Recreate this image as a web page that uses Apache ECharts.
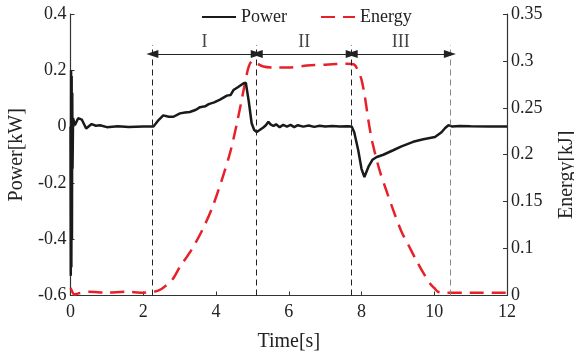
<!DOCTYPE html>
<html>
<head>
<meta charset="utf-8">
<script src="https://cdn.jsdelivr.net/npm/echarts@6/dist/echarts.min.js"></script>
<style>
html,body{margin:0;padding:0;background:#fff;}
#chart{width:574px;height:360px;}
</style>
</head>
<body>
<div id="chart"></div>
<script>
// ---- data ----
const timePower = [0, 0.008, 0.016, 0.024, 0.032, 0.04, 0.048, 0.056, 0.07, 0.12, 0.21, 0.26, 0.31, 0.43, 0.58, 0.7, 0.81, 1.0, 1.3, 1.6, 2.0, 2.28, 2.4, 2.55, 2.7, 2.83, 3.01, 3.15, 3.28, 3.45, 3.56, 3.7, 3.8, 3.95, 4.11, 4.3, 4.4, 4.48, 4.6, 4.75, 4.82, 4.9, 4.98, 5.05, 5.12, 5.2, 5.3, 5.37, 5.44, 5.5, 5.58, 5.65, 5.75, 5.85, 5.95, 6.05, 6.15, 6.25, 6.4, 6.55, 6.7, 6.85, 7.0, 7.2, 7.4, 7.6, 7.73, 7.8, 7.91, 8.0, 8.08, 8.2, 8.3, 8.42, 8.6, 8.87, 9.1, 9.42, 9.7, 10.02, 10.2, 10.3, 10.39, 10.5, 10.7, 11.0, 11.5, 12.0];
const power = [0, -0.53, 0.2, -0.5, 0.18, -0.4, 0.12, -0.15, 0.03, 0.005, 0.03, 0.035, 0.025, -0.007, 0.009, 0.003, 0.005, -0.002, 0.001, -0.001, 0.0, 0.0, 0.02, 0.04, 0.035, 0.035, 0.047, 0.05, 0.052, 0.06, 0.069, 0.072, 0.08, 0.086, 0.096, 0.11, 0.112, 0.13, 0.14, 0.153, 0.156, 0.09, 0.012, -0.012, -0.019, -0.012, -0.003, 0.005, 0.017, 0.008, 0.002, 0.008, -0.002, 0.006, 0.0, 0.006, -0.002, 0.005, 0.0, 0.004, -0.001, 0.003, 0.0, 0.002, 0.0, 0.001, 0.0, -0.02, -0.084, -0.15, -0.179, -0.14, -0.118, -0.108, -0.1, -0.084, -0.07, -0.054, -0.045, -0.037, -0.02, -0.005, 0.005, 0.0, 0.002, 0.001, 0.0, 0.0];

const timeEnergy = [0, 0.05, 0.1, 0.2, 0.5, 1.0, 1.5, 2.0, 2.3, 2.5, 2.8, 3.0, 3.3, 3.6, 3.9, 4.2, 4.4, 4.6, 4.8, 4.9, 5.0, 5.1, 5.3, 5.6, 6.0, 6.5, 7.0, 7.6, 7.8, 7.9, 8.0, 8.1, 8.2, 8.3, 8.5, 8.7, 8.9, 9.1, 9.3, 9.5, 9.7, 9.9, 10.0, 10.1, 10.3, 11.0, 12.0];
const energy = [0.058, 0.054, 0.051, 0.052, 0.054, 0.053, 0.054, 0.053, 0.054, 0.057, 0.067, 0.080, 0.097, 0.118, 0.144, 0.178, 0.204, 0.238, 0.277, 0.294, 0.300, 0.298, 0.294, 0.293, 0.293, 0.295, 0.296, 0.297, 0.296, 0.290, 0.280, 0.260, 0.234, 0.213, 0.183, 0.160, 0.138, 0.118, 0.103, 0.088, 0.074, 0.062, 0.058, 0.054, 0.053, 0.053, 0.053];

const phaseBounds = [2.25, 5.12, 7.73, 10.43];
const phaseLabels = ['I', 'II', 'III'];

const energyTickValues = [0.05, 0.1, 0.15, 0.2, 0.25, 0.3, 0.35];
const energyTickLabels = ['0', '0.1', '0.15', '0.2', '0.25', '0.3', '0.35'];

// ---- styling constants ----
const FONT = 'Liberation Serif';
const TXT = '#222';
const dashTop = 0.29;     // top of vertical dashed lines (power units)
const arrowLevel = 0.258; // arrow row (power units)

const chart = echarts.init(document.getElementById('chart'), null, {renderer: 'canvas'});

const vLines = phaseBounds.map((t, i) => [
  {coord: [t, -0.6], symbol: 'none',
   lineStyle: {type: [6, 4], width: 1, color: i === 3 ? '#888' : '#222'}},
  {coord: [t, dashTop], symbol: 'none'}
]);
const arrows = phaseLabels.map((lab, i) => [
  {coord: [phaseBounds[i], arrowLevel],
   lineStyle: {type: 'solid', width: 1, color: '#222'},
   label: {show: true, formatter: lab, position: 'insideMiddleTop', distance: 3,
           fontFamily: FONT, fontSize: 18, color: '#444'}},
  {coord: [phaseBounds[i + 1], arrowLevel]}
]);

const option = {
  animation: false,
  backgroundColor: '#fff',
  textStyle: {fontFamily: FONT, color: TXT},
  grid: {left: 70.5, right: 67, top: 14, bottom: 64.5, containLabel: false, outerBoundsMode: 'none'},
  legend: {
    left: 196, top: 3,
    itemWidth: 34, itemHeight: 14, itemGap: 33,
    itemStyle: {opacity: 0},
    textStyle: {fontFamily: FONT, fontSize: 18, color: TXT},
    data: ['Power', 'Energy']
  },
  xAxis: {
    type: 'value', min: 0, max: 12, interval: 2,
    name: 'Time[s]', nameLocation: 'middle', nameGap: 36,
    nameTextStyle: {fontFamily: FONT, fontSize: 20, color: TXT},
    axisLine: {onZero: false, lineStyle: {color: '#333', width: 1.2}},
    axisTick: {inside: true, length: 4, lineStyle: {color: '#333'}},
    axisLabel: {fontFamily: FONT, fontSize: 18, color: TXT, margin: 8},
    splitLine: {show: false}
  },
  yAxis: [
    {
      type: 'value', min: -0.6, max: 0.4, interval: 0.2, position: 'left',
      name: 'Power[kW]', nameLocation: 'middle', nameGap: 44, nameRotate: 90,
      nameTextStyle: {fontFamily: FONT, fontSize: 20, color: TXT},
      axisLine: {show: true, onZero: false, lineStyle: {color: '#333', width: 1.2}},
      axisTick: {show: true, inside: true, length: 4, lineStyle: {color: '#333'}},
      axisLabel: {fontFamily: FONT, fontSize: 18, color: TXT, margin: 4,
        formatter: v => String(Number(v.toFixed(2)))},
      splitLine: {show: false}
    },
    {
      type: 'value', min: 0.05, max: 0.35, interval: 0.05, position: 'right',
      name: 'Energy[kJ]', nameLocation: 'middle', nameGap: 50, nameRotate: 90,
      nameTextStyle: {fontFamily: FONT, fontSize: 20, color: TXT, padding: [0, 40, 0, 0]},
      axisLine: {show: true, onZero: false, lineStyle: {color: '#333', width: 1.2}},
      axisTick: {show: true, inside: true, length: 4, lineStyle: {color: '#333'}},
      axisLabel: {fontFamily: FONT, fontSize: 18, color: TXT, margin: 4,
        formatter: v => {
          const i = energyTickValues.findIndex(t => Math.abs(t - v) < 1e-6);
          return i >= 0 ? energyTickLabels[i] : '';
        }},
      splitLine: {show: false}
    }
  ],
  series: [
    {
      name: 'Energy', type: 'line', yAxisIndex: 1, symbol: 'none', smooth: 0.3,
      data: timeEnergy.map((t, i) => [t, energy[i]]),
      lineStyle: {color: '#e8202a', width: 2.5, type: [14, 8]},
      itemStyle: {color: '#e8202a'},
      z: 2
    },
    {
      name: 'Power', type: 'line', yAxisIndex: 0, symbol: 'none',
      data: timePower.map((t, i) => [t, power[i]]),
      lineStyle: {color: '#1a1a1a', width: 2.5},
      itemStyle: {color: '#1a1a1a'},
      z: 3,
      markLine: {
        silent: true, animation: false,
        symbol: ['triangle', 'triangle'], symbolSize: [8, 12],
        label: {show: false},
        data: vLines.concat(arrows)
      }
    }
  ]
};
chart.setOption(option);
</script>
</body>
</html>
